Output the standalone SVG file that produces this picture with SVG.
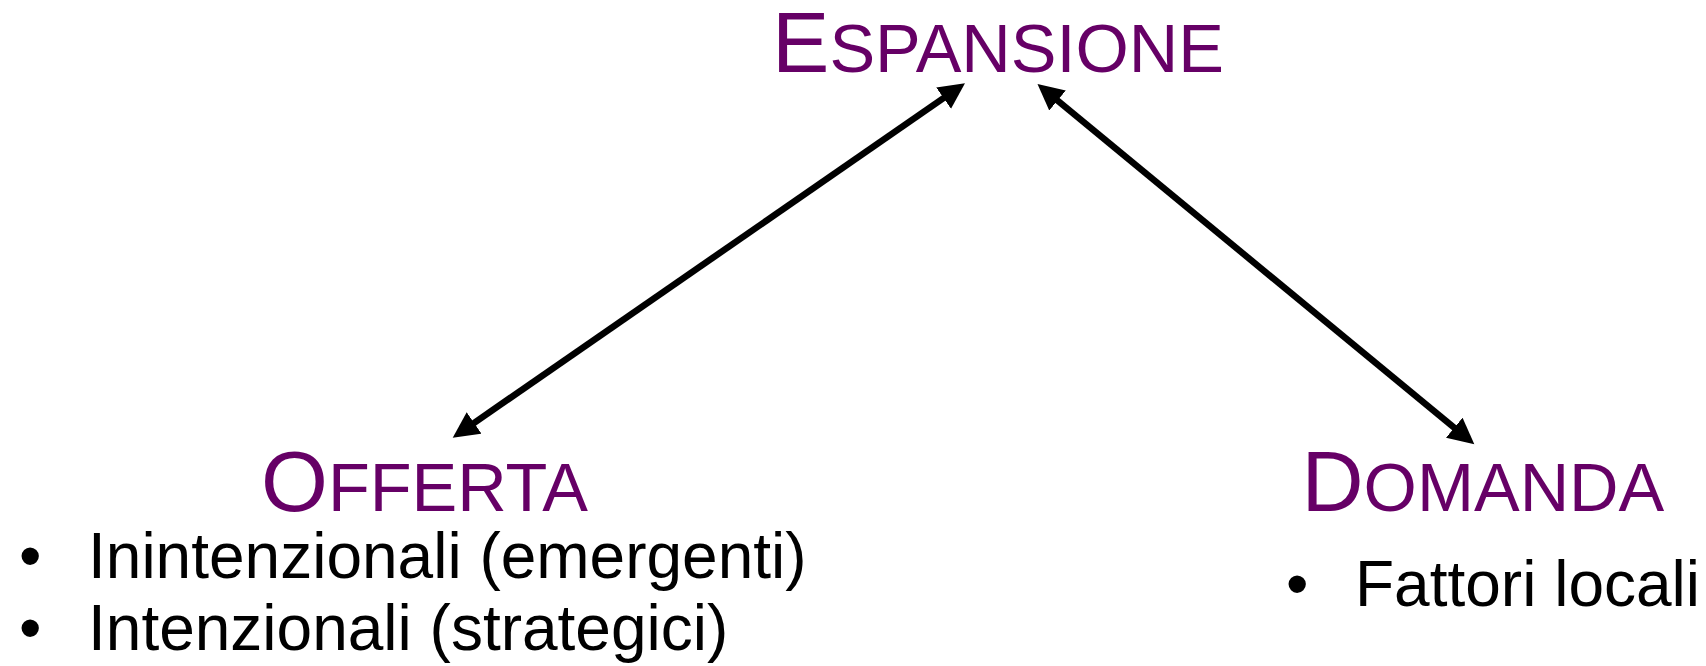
<svg xmlns="http://www.w3.org/2000/svg" width="1706" height="666" viewBox="0 0 1706 666">
  <style>
    .head { font-family: "Liberation Sans", Arial, sans-serif; fill: #660066; font-size: 86px; }
    .sc { font-size: 68.5px; }
    .body { font-family: "Liberation Sans", Arial, sans-serif; fill: #000000; font-size: 64px; }
    .conn { stroke: #000000; stroke-width: 6.5; fill: none; marker-start: url(#arrow); marker-end: url(#arrow); }
  </style>
  <defs>
    <marker id="arrow" markerUnits="userSpaceOnUse" markerWidth="27" markerHeight="27" viewBox="0 0 27 27" refX="13" refY="13.5" orient="auto-start-reverse">
      <path d="M0,0.5 L26,13.5 L0,26.5 z" fill="#000000"/>
    </marker>
  </defs>
  <rect x="0" y="0" width="1706" height="666" fill="#ffffff"/>
  <g id="connectors">
    <line class="conn" x1="463.4" y1="430.3" x2="954.3" y2="90.7"/>
    <line class="conn" x1="1047.5" y1="92.3" x2="1464.3" y2="436.0"/>
  </g>
  <g id="espansione">
    <text class="head" x="772" y="71.7">E<tspan class="sc">SPANSIONE</tspan></text>
  </g>
  <g id="offerta">
    <text class="head" x="261" y="511">O<tspan class="sc">FFERTA</tspan></text>
    <text class="body" x="19" y="578">•</text>
    <text class="body" x="88" y="578">Inintenzionali (emergenti)</text>
    <text class="body" x="19" y="650">•</text>
    <text class="body" x="88" y="650">Intenzionali (strategici)</text>
  </g>
  <g id="domanda">
    <text class="head" x="1301.5" y="511">D<tspan class="sc">OMANDA</tspan></text>
    <text class="body" x="1286" y="605.7">•</text>
    <text class="body" x="1355" y="605.7">Fattori locali</text>
  </g>
</svg>
